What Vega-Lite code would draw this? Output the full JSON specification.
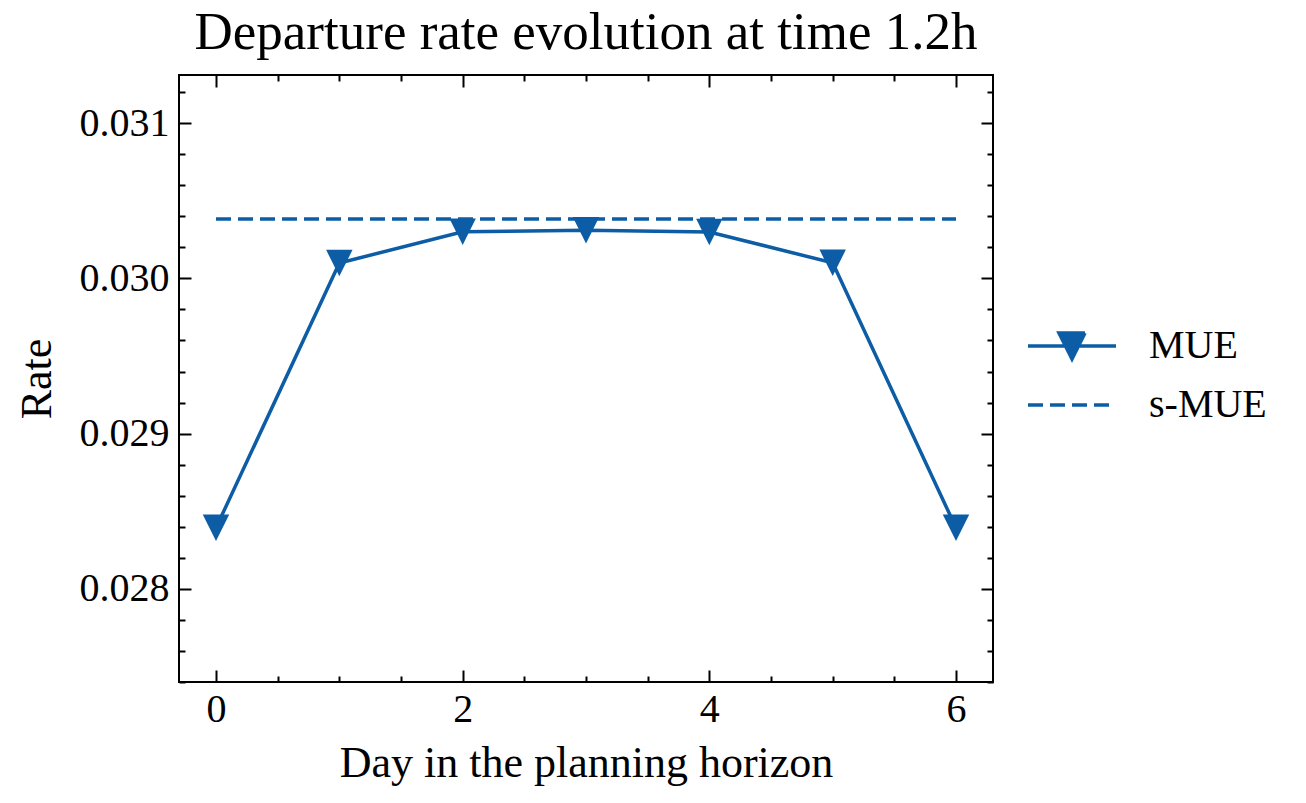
{
  "$schema": "https://vega.github.io/schema/vega-lite/v6.json",
  "width": 814,
  "height": 607,
  "autosize": "none",
  "padding": {"left": 179, "top": 75, "right": 313, "bottom": 121},
  "background": "white",
  "title": {
    "text": "Departure rate evolution at time 1.2h",
    "font": "Liberation Serif",
    "fontSize": 53,
    "fontWeight": "normal",
    "color": "black",
    "anchor": "middle",
    "frame": "group",
    "offset": 14
  },
  "data": {
    "values": [
      {"day": 0, "rate": 0.028393, "series": "MUE"},
      {"day": 1, "rate": 0.030099, "series": "MUE"},
      {"day": 2, "rate": 0.030300, "series": "MUE"},
      {"day": 3, "rate": 0.030310, "series": "MUE"},
      {"day": 4, "rate": 0.030299, "series": "MUE"},
      {"day": 5, "rate": 0.030100, "series": "MUE"},
      {"day": 6, "rate": 0.028393, "series": "MUE"},
      {"day": 0, "rate": 0.030382, "series": "s-MUE"},
      {"day": 1, "rate": 0.030382, "series": "s-MUE"},
      {"day": 2, "rate": 0.030382, "series": "s-MUE"},
      {"day": 3, "rate": 0.030382, "series": "s-MUE"},
      {"day": 4, "rate": 0.030382, "series": "s-MUE"},
      {"day": 5, "rate": 0.030382, "series": "s-MUE"},
      {"day": 6, "rate": 0.030382, "series": "s-MUE"}
    ]
  },
  "layer": [
    {
      "transform": [{"filter": "datum.series === 'MUE'"}],
      "mark": {"type": "line", "strokeWidth": 3.5},
      "encoding": {
        "x": {
          "field": "day", "type": "quantitative",
          "scale": {"domain": [-0.3, 6.3], "nice": false, "zero": false},
          "axis": {"orient": "bottom", "values": [0, 2, 4, 6], "format": "d", "tickSize": -12, "labelPadding": 19, "title": "Day in the planning horizon", "titlePadding": 12}
        },
        "y": {
          "field": "rate", "type": "quantitative",
          "scale": {"domain": [0.0274, 0.03131], "nice": false, "zero": false},
          "axis": {"orient": "left", "values": [0.028, 0.029, 0.030, 0.031], "format": ".3f", "tickSize": -12, "labelPadding": 22, "title": "Rate", "titlePadding": 20}
        },
        "color": {
          "field": "series", "type": "nominal",
          "scale": {"domain": ["MUE", "s-MUE"], "range": ["#0C5DA5", "#0C5DA5"]},
          "legend": {
            "orient": "none", "legendX": 871, "legendY": 249, "title": null,
            "padding": 0, "symbolSize": 1600, "symbolStrokeWidth": 3.5,
            "labelFont": "Liberation Serif", "labelFontSize": 40, "labelColor": "black",
            "labelOffset": 55, "rowPadding": 17,
            "encode": {
              "symbols": {
                "update": {
                  "shape": {"signal": "datum.value === 'MUE' ? 'M-2.2,0L2.2,0M-0.65,-0.65L0.65,-0.65L0,0.65Z' : 'M-2.2,0L2.2,0'"},
                  "fill": {"signal": "datum.value === 'MUE' ? '#0C5DA5' : 'transparent'"},
                  "stroke": {"value": "#0C5DA5"},
                  "strokeDash": {"signal": "datum.value === 'MUE' ? [1, 0] : [15, 7]"}
                }
              }
            }
          }
        }
      }
    },
    {
      "transform": [{"filter": "datum.series === 'MUE'"}],
      "mark": {"type": "point", "shape": "M-1,-1L1,-1L0,1Z", "size": 700, "filled": true, "opacity": 1, "color": "#0C5DA5"},
      "encoding": {
        "x": {
          "field": "day", "type": "quantitative",
          "axis": {"orient": "top", "values": [0, 2, 4, 6], "tickSize": -12, "labels": false, "title": null}
        },
        "y": {
          "field": "rate", "type": "quantitative",
          "axis": {"orient": "right", "values": [0.028, 0.029, 0.030, 0.031], "tickSize": -12, "labels": false, "title": null}
        }
      }
    },
    {
      "transform": [{"filter": "datum.series === 's-MUE'"}],
      "mark": {"type": "line", "strokeWidth": 3.5, "strokeDash": [15, 7]},
      "encoding": {
        "x": {
          "field": "day", "type": "quantitative",
          "axis": {"orient": "bottom", "values": [0.5, 1, 1.5, 2.5, 3, 3.5, 4.5, 5, 5.5], "tickSize": -6, "labels": false, "title": null}
        },
        "y": {
          "field": "rate", "type": "quantitative",
          "axis": {"orient": "left", "values": [0.0274, 0.0276, 0.0278, 0.0282, 0.0284, 0.0286, 0.0288, 0.0292, 0.0294, 0.0296, 0.0298, 0.0302, 0.0304, 0.0306, 0.0308, 0.0312], "tickSize": -6, "labels": false, "title": null}
        },
        "color": {"field": "series", "type": "nominal"}
      }
    },
    {
      "transform": [{"filter": "datum.series === 'MUE'"}],
      "mark": {"type": "point", "opacity": 0},
      "encoding": {
        "x": {
          "field": "day", "type": "quantitative",
          "axis": {"orient": "top", "values": [0.5, 1, 1.5, 2.5, 3, 3.5, 4.5, 5, 5.5], "tickSize": -6, "labels": false, "title": null}
        },
        "y": {
          "field": "rate", "type": "quantitative",
          "axis": {"orient": "right", "values": [0.0274, 0.0276, 0.0278, 0.0282, 0.0284, 0.0286, 0.0288, 0.0292, 0.0294, 0.0296, 0.0298, 0.0302, 0.0304, 0.0306, 0.0308, 0.0312], "tickSize": -6, "labels": false, "title": null}
        }
      }
    }
  ],
  "resolve": {"axis": {"x": "independent", "y": "independent"}},
  "config": {
    "view": {"stroke": "black", "strokeWidth": 2},
    "axis": {
      "domain": false,
      "grid": false,
      "tickColor": "black",
      "tickWidth": 2,
      "labelFont": "Liberation Serif",
      "labelFontSize": 40,
      "labelColor": "black",
      "titleFont": "Liberation Serif",
      "titleFontSize": 44,
      "titleFontWeight": "normal",
      "titleColor": "black"
    }
  }
}
